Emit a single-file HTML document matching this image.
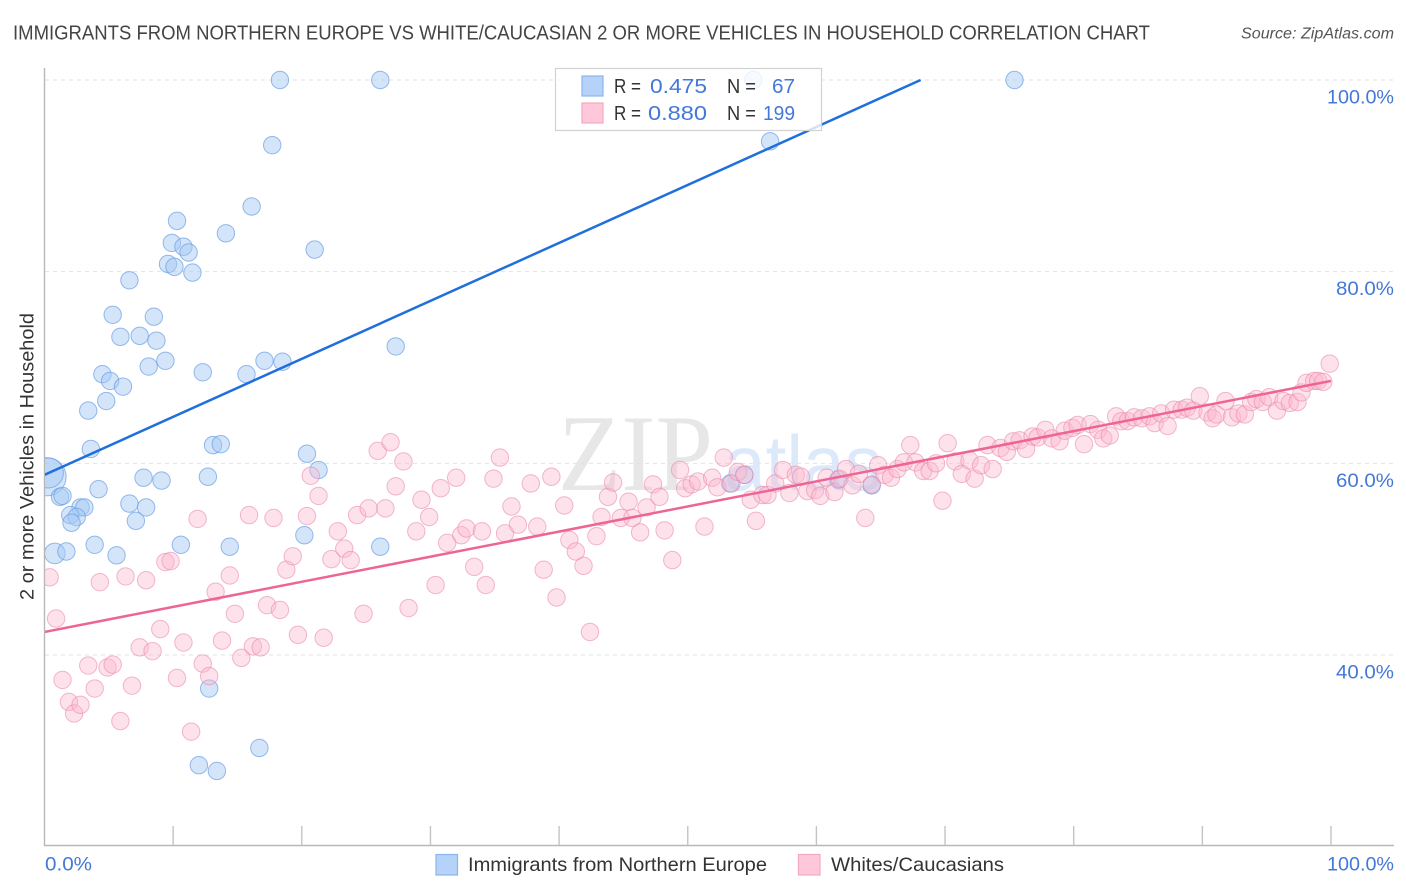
<!DOCTYPE html>
<html lang="en">
<head>
<meta charset="utf-8">
<title>Immigrants from Northern Europe vs White/Caucasian 2 or more Vehicles in Household Correlation Chart</title>
<style>
html,body{margin:0;padding:0;background:#fff;}
body{width:1406px;height:892px;overflow:hidden;}
svg{display:block;font-family:"Liberation Sans",sans-serif;}
</style>
</head>
<body>
<svg id="chart" xmlns="http://www.w3.org/2000/svg" width="1406" height="892" viewBox="0 0 1406 892">
  <rect x="0" y="0" width="1406" height="892" fill="#fff"/>
  <text x="13" y="39.500" font-size="20" fill="#444" textLength="1137" lengthAdjust="spacingAndGlyphs">IMMIGRANTS FROM NORTHERN EUROPE VS WHITE/CAUCASIAN 2 OR MORE VEHICLES IN HOUSEHOLD CORRELATION CHART</text>
  <text x="1241" y="38.500" font-size="15.500" font-style="italic" fill="#555" textLength="153" lengthAdjust="spacingAndGlyphs">Source: ZipAtlas.com</text>
  <text transform="translate(33.500,456.500) rotate(-90)" text-anchor="middle" font-size="19.500" fill="#333" textLength="287" lengthAdjust="spacingAndGlyphs">2 or more Vehicles in Household</text>

  <g>
    <text x="558" y="490" font-family="'Liberation Serif',serif" font-size="109" fill="#e7e7e7" textLength="155" lengthAdjust="spacingAndGlyphs">ZIP</text>
    <text x="724" y="490" font-size="78" fill="#dce9fa" textLength="158" lengthAdjust="spacingAndGlyphs">atlas</text>
  </g>

  <g id="grid"></g>
  <g id="axes"></g>
  <defs>
    <clipPath id="plot-clip"><rect x="45" y="60" width="1349" height="785"/></clipPath>
  </defs>
  <g id="points-blue" clip-path="url(#plot-clip)"></g>
  <g id="points-pink" clip-path="url(#plot-clip)"></g>
  <g id="trends" clip-path="url(#plot-clip)"></g>

  <g>
    <rect x="555.500" y="68.500" width="266" height="62" fill="#fff" fill-opacity="0.8" stroke="#d2d2d2" stroke-width="1.200"/>
    <rect x="582" y="76" width="21" height="20" fill="#b5d2f8" stroke="#8cb5ee" stroke-width="1.200"/>
    <rect x="582" y="103" width="21" height="20" fill="#ffc8da" stroke="#f4a9c3" stroke-width="1.200"/>
    <g font-size="20">
      <text x="614" y="93" fill="#333" textLength="27" lengthAdjust="spacingAndGlyphs">R =</text>
      <text x="650" y="93" fill="#4478d8" textLength="57" lengthAdjust="spacingAndGlyphs">0.475</text>
      <text x="727" y="93" fill="#333" textLength="29" lengthAdjust="spacingAndGlyphs">N =</text>
      <text x="772" y="93" fill="#4478d8" textLength="23" lengthAdjust="spacingAndGlyphs">67</text>
      <text x="614" y="120" fill="#333" textLength="27" lengthAdjust="spacingAndGlyphs">R =</text>
      <text x="648" y="120" fill="#4478d8" textLength="59" lengthAdjust="spacingAndGlyphs">0.880</text>
      <text x="727" y="120" fill="#333" textLength="29" lengthAdjust="spacingAndGlyphs">N =</text>
      <text x="763" y="120" fill="#4478d8" textLength="32" lengthAdjust="spacingAndGlyphs">199</text>
    </g>
  </g>

  <g>
    <rect x="436" y="854.500" width="21.500" height="20.500" fill="#b5d2f8" stroke="#8cb5ee" stroke-width="1.200"/>
    <text x="468" y="871" font-size="19.500" fill="#333" textLength="299" lengthAdjust="spacingAndGlyphs">Immigrants from Northern Europe</text>
    <rect x="798.500" y="854.500" width="21.500" height="20.500" fill="#ffc8da" stroke="#f4a9c3" stroke-width="1.200"/>
    <text x="831" y="871" font-size="19.500" fill="#333" textLength="173" lengthAdjust="spacingAndGlyphs">Whites/Caucasians</text>
  </g>
</svg>
<script>
const xTickValues = [0,10,20,30,40,50,60,70,80,90,100];
const xTickLabels = ["0.0%","100.0%"];
const xTickLabelValues = [0,100];
const yTickValues = [100,80,60,40];
const yTickLabels = ["100.0%","80.0%","60.0%","40.0%"];

const blueX = [18.3,26.1,55.1,75.4,17.7,56.4,16.1,10.3,14.1,9.9,10.8,11.2,21.0,9.6,10.1,11.5,6.6,5.3,8.5,5.9,7.4,8.7,8.1,9.4,17.1,18.5,27.3,12.3,15.7,4.5,5.1,6.1,4.8,3.4,3.6,13.1,13.7,20.4,21.3,7.7,9.1,12.7,1.2,1.4,4.2,6.6,7.9,2.8,3.1,2.0,2.5,2.1,7.1,3.9,10.6,20.2,14.4,26.1,5.6,1.7,12.8,12.0,13.4,16.7,53.3,54.4,61.7,64.3];
const blueY = [100,100,100,100,93.2,93.6,86.8,85.3,84.0,83.0,82.6,82.0,82.3,80.8,80.5,79.9,79.1,75.5,75.3,73.2,73.3,72.8,70.1,70.7,70.7,70.6,72.2,69.5,69.3,69.3,68.6,68.0,66.5,65.5,61.5,61.9,62.0,61.0,59.3,58.5,58.2,58.6,56.5,56.6,57.3,55.8,55.4,55.4,55.4,54.6,54.4,53.8,54.0,51.5,51.5,52.5,51.3,51.3,50.4,50.8,36.5,28.5,27.9,30.3,57.9,58.8,58.3,57.7];
const blueLargeX = [0.2,0.3,0.8];
const blueLargeY = [58.6,59.0,50.6];
const blueLargeSize = [4.8,3,1.4];

const pinkX = [0.4,0.9,1.4,1.9,2.3,2.8,3.4,3.9,4.3,4.9,5.3,5.9,6.3,6.8,7.4,7.9,8.4,9.0,9.4,9.8,10.3,10.8,11.4,11.9,12.3,12.8,13.3,13.8,14.4,14.8,15.3,15.9,16.2,16.8,17.3,17.8,18.3,18.8,19.3,19.7,20.4,20.7,21.3,21.7,22.3,22.8,23.3,23.8,24.3,24.8,25.2,25.9,26.5,26.9,27.3,27.9,28.3,28.9,29.3,29.9,30.4,30.8,31.3,32.0,32.4,32.8,33.4,34.0,34.3,34.9,35.4,35.8,36.3,36.8,37.8,38.3,38.8,39.4,39.8,40.4,40.8,41.3,41.9,42.4,42.9,43.3,43.8,44.2,44.8,45.4,45.7,46.3,46.8,47.3,47.8,48.2,48.8,49.4,49.8,50.3,50.8,51.3,51.9,52.3,52.8,53.4,53.9,54.4,54.9,55.3,55.8,56.2,56.8,57.4,57.9,58.4,58.8,59.3,59.9,60.3,60.8,61.4,61.8,62.3,62.8,63.3,63.8,64.3,64.8,65.3,65.8,66.3,66.8,67.3,67.7,68.3,68.8,69.3,69.8,70.2,70.8,71.3,71.9,72.3,72.8,73.3,73.7,74.3,74.8,75.3,75.8,76.3,76.8,77.2,77.8,78.3,78.9,79.3,79.9,80.3,80.8,81.3,81.9,82.3,82.8,83.3,83.7,84.2,84.7,85.3,85.9,86.3,86.8,87.3,87.8,88.4,88.8,89.3,89.8,90.4,90.8,91.1,91.8,92.3,92.8,93.3,93.8,94.2,94.7,95.2,95.8,96.3,96.8,97.4,97.7,98.1,98.7,99.0,99.4,99.9];
const pinkY = [48.1,43.8,37.4,35.1,33.9,34.8,38.9,36.5,47.6,38.7,39.0,33.1,48.2,36.8,40.8,47.8,40.4,42.7,49.7,49.8,37.6,41.3,32.0,54.2,39.1,37.8,46.6,41.5,48.3,44.3,39.7,54.6,40.9,40.8,45.2,54.3,44.7,48.9,50.3,42.1,54.5,58.7,56.6,41.8,50.0,52.9,51.1,49.9,54.6,44.3,55.3,61.3,55.3,62.2,57.6,60.2,44.9,52.9,56.2,54.4,47.3,57.4,51.7,58.5,52.5,53.2,49.2,52.9,47.3,58.4,60.6,52.7,55.5,53.6,57.9,53.4,48.9,58.6,46.0,55.6,52.0,50.8,49.3,42.4,52.4,54.4,56.5,58.0,54.3,56.0,54.3,52.8,55.4,57.8,56.5,53.0,49.9,59.3,57.4,57.8,58.1,53.4,58.5,57.5,60.6,57.9,59.1,58.8,56.2,54.0,56.7,56.7,57.9,59.3,56.9,58.8,58.6,57.1,57.2,56.6,58.5,57.0,58.4,59.4,57.7,58.9,54.3,57.8,59.8,58.8,58.5,59.4,60.1,61.9,60.1,59.2,59.2,60.0,56.1,62.1,60.2,58.9,60.3,58.4,59.8,61.9,59.4,61.6,61.2,62.3,62.4,61.5,62.8,62.7,63.5,62.6,62.3,63.4,63.7,64.0,62.0,64.1,63.5,62.6,62.9,64.9,64.4,64.4,64.8,64.7,64.9,64.2,65.2,63.9,65.6,65.6,65.8,65.5,67.0,65.3,64.7,65.1,66.5,64.8,65.2,65.1,66.4,66.7,66.4,66.9,65.5,66.5,66.3,66.4,67.4,68.4,68.6,68.6,68.5,70.4];

const blueTrendX = [0,68.1];
const blueTrendY = [58.8,100];
const pinkTrendX = [0,100];
const pinkTrendY = [42.4,68.6];

const NS = 'http://www.w3.org/2000/svg';
const X0 = 44.5, X100 = 1331, Y100 = 80, Y40 = 655;
const BASE_R = 8.7;
function sx(v){ return X0 + (X100 - X0) * v / 100; }
function sy(v){ return Y100 + (100 - v) * (Y40 - Y100) / 60; }
function mk(tag, attrs, parent){
  const el = document.createElementNS(NS, tag);
  for (const k in attrs) el.setAttribute(k, attrs[k]);
  parent.appendChild(el);
  return el;
}

const grid = document.getElementById('grid');
const axes = document.getElementById('axes');

yTickValues.forEach(function(v, i){
  const line = mk('line', {x1:45, x2:1394, y1:sy(v), y2:sy(v), stroke:'#e2e2e2', 'stroke-width':1, 'stroke-dasharray':'4 4'}, grid);
  
  
  const label = mk('text', {x:1394, y:sy(v) + 23.5, 'text-anchor':'end', 'font-size':19.5, fill:'#4478d8', textLength: yTickLabels[i].length === 6 ? 67 : 58, lengthAdjust:'spacingAndGlyphs'}, axes);
  label.textContent = yTickLabels[i];
  
  
});

const yAxis = mk('line', {x1:44.5, x2:44.5, y1:68, y2:846, stroke:'#b8b8b8', 'stroke-width':1.4}, axes);


const xAxis = mk('line', {x1:44, x2:1394, y1:845.5, y2:845.5, stroke:'#b8b8b8', 'stroke-width':1.4}, axes);



xTickValues.forEach(function(v){
  if (v === 0) return;
  const t = mk('line', {x1:sx(v), x2:sx(v), y1:826, y2:845, stroke:'#c4c4c4', 'stroke-width':1.4}, axes);
  
  
});

xTickLabelValues.forEach(function(v, i){
  const anchorX = v === 0 ? 45 : 1327;
  const label = mk('text', {x:anchorX, y:870.5, 'font-size':19.5, fill:'#4478d8', textLength: v === 0 ? 47 : 67, lengthAdjust:'spacingAndGlyphs'}, axes);
  label.textContent = xTickLabels[i];
  
  
});

const blueGroup = document.getElementById('points-blue');
const pinkGroup = document.getElementById('points-pink');
const BLUE_STYLE = {fill:'#a6c9f5', 'fill-opacity':0.48, stroke:'#6a9ee4', 'stroke-opacity':0.7, 'stroke-width':1};
const PINK_STYLE = {fill:'#fdb7cc', 'fill-opacity':0.4, stroke:'#e98aaa', 'stroke-opacity':0.6, 'stroke-width':1};

blueLargeX.forEach(function(x, i){
  const c = mk('circle', Object.assign({cx:sx(x), cy:sy(blueLargeY[i]), r:BASE_R * Math.sqrt(blueLargeSize[i])}, BLUE_STYLE), blueGroup);
  
  
});
blueX.forEach(function(x, i){
  const c = mk('circle', Object.assign({cx:sx(x), cy:sy(blueY[i]), r:BASE_R}, BLUE_STYLE), blueGroup);
  
  
});
pinkX.forEach(function(x, i){
  const c = mk('circle', Object.assign({cx:sx(x), cy:sy(pinkY[i]), r:BASE_R}, PINK_STYLE), pinkGroup);
  
  
});

const trends = document.getElementById('trends');
const blueTrend = mk('line', {x1:sx(blueTrendX[0]), y1:sy(blueTrendY[0]), x2:sx(blueTrendX[1]), y2:sy(blueTrendY[1]), stroke:'#1f6fdc', 'stroke-width':2.5}, trends);


const pinkTrend = mk('line', {x1:sx(pinkTrendX[0]), y1:sy(pinkTrendY[0]), x2:sx(pinkTrendX[1]), y2:sy(pinkTrendY[1]), stroke:'#ee6497', 'stroke-width':2.5}, trends);


</script>
</body>
</html>
